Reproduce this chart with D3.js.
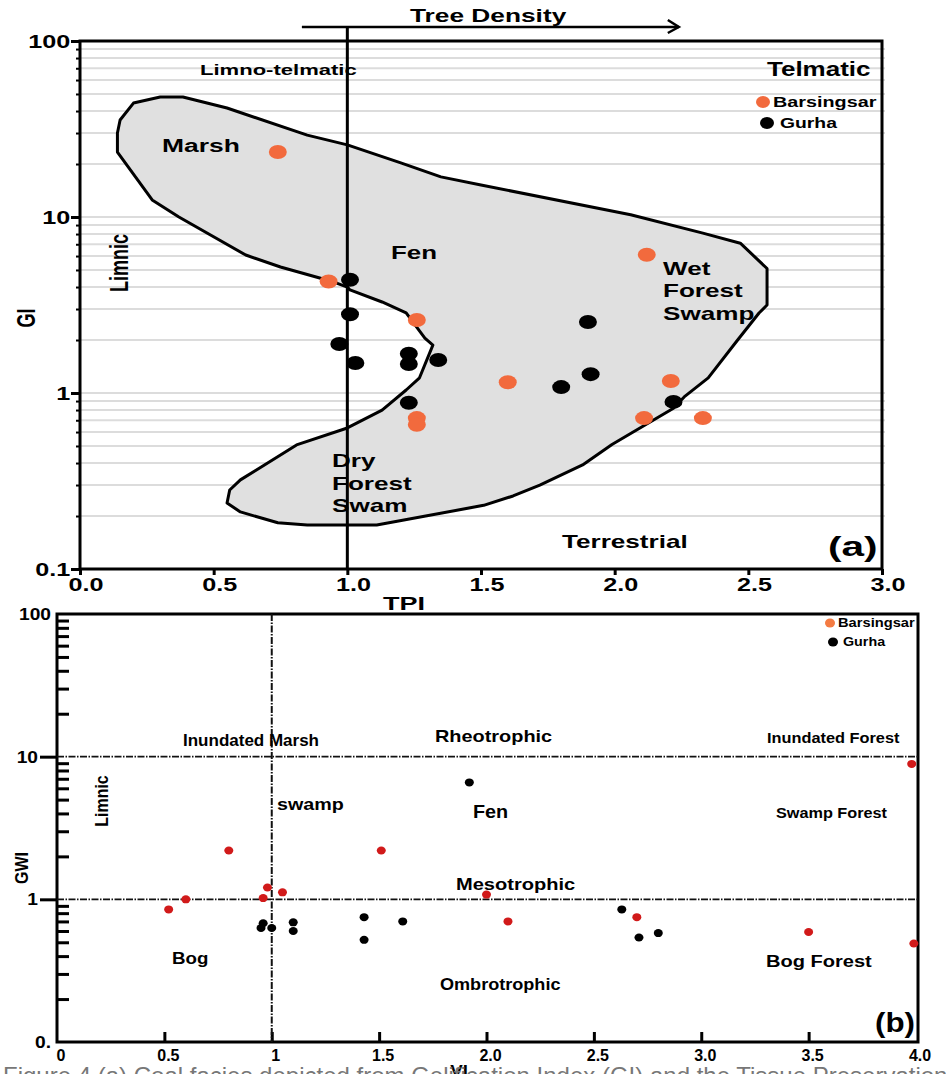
<!DOCTYPE html>
<html lang="en">
<head>
<meta charset="UTF-8">
<script src="https://cdn.jsdelivr.net/npm/d3@7/dist/d3.min.js"></script>
<style>
    body { margin: 0; background: #fff; }
    svg text { font-family: "Liberation Sans", Arial, sans-serif; font-weight: bold; fill: #000; }
</style>
</head>
<body>
<svg width="946" height="1074"></svg>
<script>
    // (a) TPI vs GI
    var barsTPI = [0.74, 0.93, 1.26, 1.60, 2.12, 2.21, 2.11, 2.33, 1.26, 1.26];
    var barsGI = [23.4, 4.3, 2.6, 1.15, 6.1, 1.17, 0.72, 0.72, 0.72, 0.66];
    var gurhaTPI = [1.01, 1.01, 0.97, 1.03, 1.23, 1.23, 1.34, 1.23, 1.90, 1.91, 1.80, 2.22];
    var gurhaGI = [4.4, 2.8, 1.9, 1.48, 1.67, 1.46, 1.54, 0.88, 2.53, 1.28, 1.08, 0.89];

    // outline of the shaded facies field (TPI, GI)
    var fieldTPI = [0.14, 0.15, 0.20, 0.30, 0.385, 0.55, 0.85, 1.0, 1.20, 1.35, 1.50, 2.06, 2.33, 2.47, 2.57, 2.57,
        2.54, 2.46, 2.35, 2.26, 2.22, 1.99, 1.88, 1.72, 1.62, 1.51, 1.11, 0.85, 0.74, 0.60, 0.55, 0.56, 0.60,
        0.81, 1.0, 1.13, 1.22, 1.27, 1.32, 1.29, 1.22, 1.13, 1.01, 1.0, 0.95, 0.75, 0.62, 0.37, 0.27, 0.14];
    var fieldGI = [30, 35.6, 44.4, 48.1, 48.1, 41.6, 29.2, 25.7, 20.3, 16.9, 15.2, 10.3, 8.1, 7.1, 5.1, 3.16,
        2.85, 2.0, 1.22, 0.95, 0.82, 0.51, 0.39, 0.30, 0.26, 0.23, 0.178, 0.178, 0.183, 0.211, 0.237, 0.281, 0.321,
        0.507, 0.633, 0.80, 1.04, 1.22, 1.87, 2.05, 2.85, 3.29, 3.85, 4.0, 4.27, 5.2, 6.08, 10.0, 12.5, 23.4];

    // (b) VI vs GWI
    var barsVI = [3.98, 0.80, 1.51, 0.98, 1.05, 0.96, 0.60, 0.52, 2.00, 2.10, 2.70, 3.50, 3.99];
    var barsGWI = [8.9, 2.2, 2.2, 1.21, 1.12, 1.02, 1.0, 0.85, 1.08, 0.70, 0.75, 0.59, 0.49];
    var gurhaVI = [1.92, 0.95, 0.96, 1.00, 1.10, 1.10, 1.43, 1.43, 1.61, 2.63, 2.71, 2.80];
    var gurhaGWI = [6.6, 0.63, 0.68, 0.63, 0.69, 0.60, 0.75, 0.52, 0.70, 0.85, 0.54, 0.58];

    var tpiTicks = [0, 0.5, 1, 1.5, 2, 2.5, 3];
    var tpiLabels = ["0.0", "0.5", "1.0", "1.5", "2.0", "2.5", "3.0"];
    var giTicks = [0.1, 1, 10, 100];
    var giLabels = ["0.1", "1", "10", "100"];
    var viTicks = [0, 0.5, 1, 1.5, 2, 2.5, 3, 3.5, 4];
    var viLabels = ["0", "0.5", "1", "1.5", "2.0", "2.5", "3.0", "3.5", "4.0"];
    var gwiTicks = [0.1, 1, 10, 100];
    var gwiLabels = ["0.", "1", "10", "100"];

    var orangeA = "#f26a3d", orangeB = "#f47b42", redB = "#d11a1a";
    var svg = d3.select("svg");

    // text helper, sx stretches glyphs across the page like the scanned figure
    function note(g, txt, x, y, size, sx, anchor, rot) {
        var t = "translate(" + x + "," + y + ")";
        if (rot) t += " rotate(" + rot + ") scale(1," + sx + ")";
        else t += " scale(" + sx + ",1)";
        return g.append("text").attr("transform", t).attr("font-size", size)
            .attr("text-anchor", anchor || "start").text(txt);
    }

    /* ---------- panel (a) ---------- */
    var xA = d3.scaleLinear().domain([0, 3]).range([80, 882]);
    var yA = d3.scaleLog().domain([0.1, 100]).range([569, 41]);
    var gA = svg.append("g");

    var minorA = yA.ticks().filter(function (d) { return d > 0.1 && d < 100; });
    gA.selectAll(".grid").data(minorA).enter().append("line")
        .attr("x1", 80).attr("x2", 885)
        .attr("y1", function (d) { return yA(d); }).attr("y2", function (d) { return yA(d); })
        .attr("stroke", "#dcdcdc").attr("stroke-width", 2);

    var field = fieldTPI.map(function (d, i) { return [d, fieldGI[i]]; });
    gA.append("path").datum(field)
        .attr("d", d3.line()
            .x(function (d) { return xA(d[0]); })
            .y(function (d) { return yA(d[1]); })
            .curve(d3.curveLinearClosed))
        .attr("fill", "#e0e0e0").attr("stroke", "#000")
        .attr("stroke-width", 3).attr("stroke-linejoin", "round");

    // minor ticks on the GI axis
    gA.append("g").attr("transform", "translate(80,0)")
        .call(d3.axisLeft(yA).tickValues(minorA).tickSize(4).tickFormat(""))
        .call(function (g) { g.select(".domain").remove(); })
        .selectAll("line").attr("stroke-width", 2);

    gA.append("g").attr("transform", "translate(80,0)")
        .call(d3.axisLeft(yA).tickValues(giTicks).tickSize(9)
            .tickFormat(function (d, i) { return giLabels[i]; }))
        .call(function (g) { g.select(".domain").remove(); })
        .call(function (g) {
            g.selectAll("line").attr("stroke-width", 3);
            g.selectAll("text").attr("font-size", 18).attr("x", -7).attr("dy", "0.36em")
                .attr("transform", "scale(1.4,1)");
        });

    gA.append("g").attr("transform", "translate(0,569)")
        .call(d3.axisBottom(xA).tickValues(tpiTicks).tickSize(6)
            .tickFormat(function (d, i) { return tpiLabels[i]; }))
        .call(function (g) { g.select(".domain").remove(); })
        .call(function (g) {
            g.selectAll("line").attr("stroke-width", 3);
            g.selectAll("text").attr("font-size", 18).attr("x", 4).attr("y", 9)
                .attr("transform", "scale(1.4,1)");
        });

    gA.append("rect").attr("x", 80).attr("y", 41).attr("width", 802).attr("height", 528)
        .attr("fill", "none").attr("stroke", "#000").attr("stroke-width", 3);

    // TPI = 1 divider and tree density arrow
    gA.append("line").attr("x1", xA(1)).attr("x2", xA(1)).attr("y1", 27).attr("y2", 569)
        .attr("stroke", "#000").attr("stroke-width", 3);
    gA.append("line").attr("x1", xA(0.83)).attr("x2", xA(2.24)).attr("y1", 27).attr("y2", 27)
        .attr("stroke", "#000").attr("stroke-width", 2.5);
    gA.append("path")
        .attr("d", "M" + (xA(2.24) - 11) + ",20 L" + xA(2.24) + ",27 L" + (xA(2.24) - 11) + ",33")
        .attr("fill", "none").attr("stroke", "#000").attr("stroke-width", 2.5);

    gA.selectAll(".gur").data(gurhaTPI).enter().append("ellipse")
        .attr("cx", function (d) { return xA(d); })
        .attr("cy", function (d, i) { return yA(gurhaGI[i]); })
        .attr("rx", 9).attr("ry", 7).attr("fill", "#000");
    gA.selectAll(".bar").data(barsTPI).enter().append("ellipse")
        .attr("cx", function (d) { return xA(d); })
        .attr("cy", function (d, i) { return yA(barsGI[i]); })
        .attr("rx", 9).attr("ry", 7).attr("fill", orangeA);

    gA.append("ellipse").attr("cx", 763).attr("cy", 102).attr("rx", 7).attr("ry", 6).attr("fill", orangeA);
    gA.append("ellipse").attr("cx", 767).attr("cy", 123).attr("rx", 7).attr("ry", 6).attr("fill", "#000");
    note(gA, "Barsingsar", 773, 107, 15, 1.32);
    note(gA, "Gurha", 780, 128, 15, 1.29);

    note(gA, "Tree Density", 410, 22, 18, 1.46);
    note(gA, "Limno-telmatic", 200, 75, 15, 1.47);
    note(gA, "Telmatic", 767, 76, 20, 1.3);
    note(gA, "Marsh", 162, 152, 18, 1.47);
    note(gA, "Fen", 391, 259, 18, 1.44);
    note(gA, "Wet", 663, 275, 18, 1.45);
    note(gA, "Forest", 663, 297, 18, 1.45);
    note(gA, "Swamp", 663, 320, 18, 1.45);
    note(gA, "Dry", 332, 467, 18, 1.45);
    note(gA, "Forest", 332, 490, 18, 1.45);
    note(gA, "Swam", 332, 512, 18, 1.45);
    note(gA, "Terrestrial", 562, 548, 18, 1.45);
    note(gA, "(a)", 828, 556, 28, 1.45);
    note(gA, "TPI", 383, 610, 18, 1.5);
    note(gA, "GI", 35, 318, 18, 1.4, "middle", -90);
    note(gA, "Limnic", 128, 263, 18, 1.4, "middle", -90);

    /* ---------- panel (b) ---------- */
    var xB = d3.scaleLinear().domain([0, 4]).range([57, 916]);
    var yB = d3.scaleLog().domain([0.1, 100]).range([1042, 614]);
    var gB = svg.append("g");

    var minorB = yB.ticks().filter(function (d) { return giTicks.indexOf(d) < 0; });
    gB.append("g").attr("transform", "translate(57,0)")
        .call(d3.axisRight(yB).tickValues(minorB).tickSize(12).tickFormat(""))
        .call(function (g) { g.select(".domain").remove(); })
        .selectAll("line").attr("stroke-width", 3);
    gB.append("g").attr("transform", "translate(57,0)")
        .call(d3.axisLeft(yB).tickValues([1, 10]).tickSize(17).tickFormat(""))
        .call(function (g) { g.select(".domain").remove(); })
        .selectAll("line").attr("stroke-width", 3);
    gB.append("g").attr("transform", "translate(0,1042)")
        .call(d3.axisTop(xB).tickValues(viTicks.slice(1, -1)).tickSize(10).tickFormat(""))
        .call(function (g) { g.select(".domain").remove(); })
        .selectAll("line").attr("stroke-width", 3);

    gB.selectAll(".xl").data(viTicks).enter().append("text")
        .attr("x", function (d) { return xB(d) + 4; }).attr("y", 1061)
        .attr("font-size", 16).attr("text-anchor", "middle")
        .text(function (d, i) { return viLabels[i]; });
    gwiTicks.forEach(function (d, i) {
        var edge = (d === 1 || d === 10) ? 38 : 51;
        note(gB, gwiLabels[i], edge, yB(d) + 6, 16, 1.2, "end");
    });

    gB.append("rect").attr("x", 57).attr("y", 614).attr("width", 861).attr("height", 428)
        .attr("fill", "none").attr("stroke", "#000").attr("stroke-width", 3);

    // dash-dot dividers
    [1, 10].forEach(function (v) {
        gB.append("line").attr("x1", 57).attr("x2", 918).attr("y1", yB(v)).attr("y2", yB(v))
            .attr("stroke", "#111").attr("stroke-width", 1.8).attr("stroke-dasharray", "7,1.5,1.5,1.5");
    });
    gB.append("line").attr("x1", xB(1)).attr("x2", xB(1)).attr("y1", 614).attr("y2", 1042)
        .attr("stroke", "#111").attr("stroke-width", 2).attr("stroke-dasharray", "7,1.5,1.5,1.5");

    gB.selectAll(".gur").data(gurhaVI).enter().append("ellipse")
        .attr("cx", function (d) { return xB(d); })
        .attr("cy", function (d, i) { return yB(gurhaGWI[i]); })
        .attr("rx", 4.5).attr("ry", 4).attr("fill", "#000");
    gB.selectAll(".bar").data(barsVI).enter().append("ellipse")
        .attr("cx", function (d) { return xB(d); })
        .attr("cy", function (d, i) { return yB(barsGWI[i]); })
        .attr("rx", 4.5).attr("ry", 4).attr("fill", redB);

    gB.append("ellipse").attr("cx", 830).attr("cy", 623).attr("rx", 5).attr("ry", 4.5).attr("fill", orangeB);
    gB.append("ellipse").attr("cx", 833).attr("cy", 642).attr("rx", 5).attr("ry", 4.5).attr("fill", "#000");
    note(gB, "Barsingsar", 838, 627, 13, 1.13);
    note(gB, "Gurha", 843, 646, 13, 1.1);

    note(gB, "Inundated Marsh", 183, 746, 17, 1.0);
    note(gB, "Rheotrophic", 435, 742, 17, 1.17);
    note(gB, "Inundated Forest", 767, 743, 15, 1.09);
    note(gB, "swamp", 277, 810, 17, 1.16);
    note(gB, "Fen", 473, 818, 18, 1.1);
    note(gB, "Swamp Forest", 776, 818, 14, 1.16);
    note(gB, "Mesotrophic", 456, 890, 17, 1.18);
    note(gB, "Bog", 172, 964, 17, 1.1);
    note(gB, "Ombrotrophic", 440, 990, 16, 1.13);
    note(gB, "Bog Forest", 766, 967, 17, 1.18);
    note(gB, "(b)", 875, 1032, 28, 1.12);
    note(gB, "GWI", 28, 868, 16, 1.1, "middle", -90);
    note(gB, "Limnic", 108, 801, 16, 1.1, "middle", -90);

    // figure caption, cropped by the page edge as in the source
    svg.append("text").attr("x", 3).attr("y", 1084).attr("font-size", 24)
        .style("font-weight", "normal").style("fill", "#777")
        .text("Figure 4 (a) Coal facies depicted from Gelification Index (GI) and the Tissue Preservation Index (TPI)");
    note(gB, "VI", 459, 1077, 17, 1.1, "middle");
</script>
</body>
</html>
